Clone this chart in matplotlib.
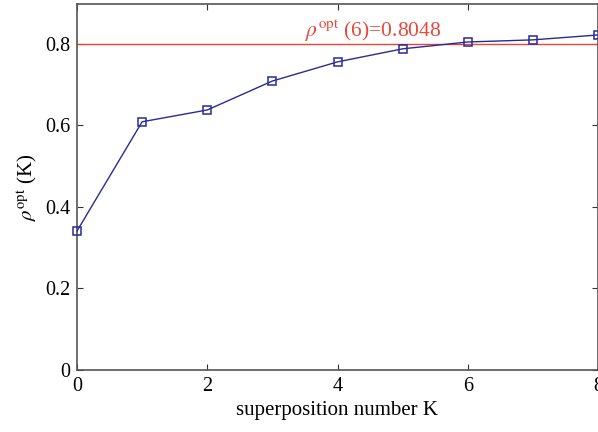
import matplotlib
matplotlib.use("Agg")
import matplotlib.pyplot as plt

plt.rcParams['font.family'] = ['Liberation Serif', 'DejaVu Serif']
plt.rcParams['mathtext.fontset'] = 'stix'

K = [0, 1, 2, 3, 4, 5, 6, 7, 8]
rho = [0.341, 0.609, 0.638, 0.709, 0.756, 0.788, 0.8048, 0.810, 0.822]
ref_level = 0.8
ref_label = r'$\rho^{\rm opt}$ (6)=0.8048'
xticks = [0, 2, 4, 6, 8]
yticks = [0, 0.2, 0.4, 0.6, 0.8]

fig = plt.figure(figsize=(5.98, 4.32), dpi=100)
ax = fig.add_axes([77/598, 62/432, 521/598, 366/432])

ax.axhline(ref_level, color='#e8463a', lw=1.0)
ax.plot(K, rho, color='#2a2a96', lw=1.0, marker='s', ms=5.5,
        mfc='none', mec='#2a2a96', mew=1.1, clip_on=False, zorder=3)
ax.text(3.5, 0.816, ref_label, color='#e8463a', fontsize=15.5, va='baseline', ha='left')

ax.set_xlim(0, 8)
ax.set_ylim(0, 0.898)
ax.set_xticks(xticks)
ax.set_yticks(yticks)
ax.set_yticklabels(['0', '0.2', '0.4', '0.6', '0.8'])
ax.tick_params(direction='in', top=True, right=True, labelsize=14.5, length=4,
               color='#333333', pad=5)
for s in ax.spines.values():
    s.set_color('#555555')
    s.set_linewidth(1.2)
ax.set_xlabel('superposition number K', fontsize=15, labelpad=4)
ax.set_ylabel(r'$\rho^{\rm opt}$ (K)', fontsize=15, labelpad=4)

fig.savefig('out.png', dpi=100)
